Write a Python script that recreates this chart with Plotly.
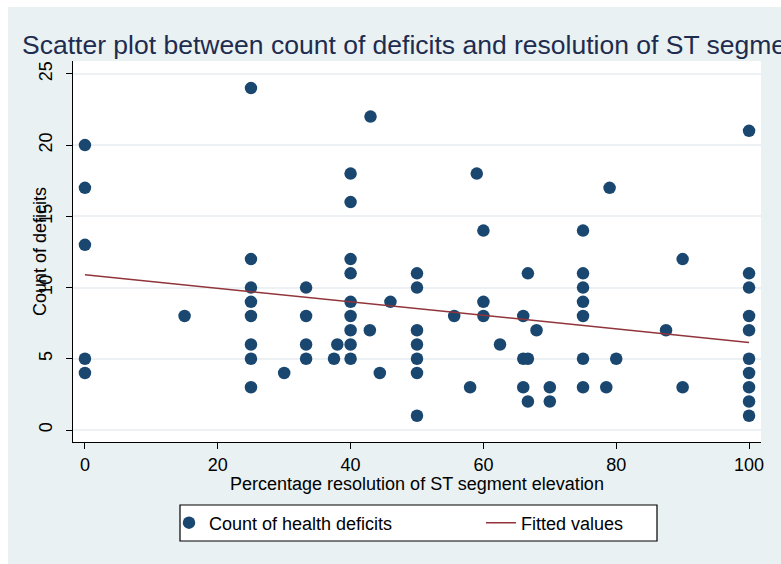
import plotly.graph_objects as go

# Percentage resolution of ST segment elevation (x) and count of health deficits (y)
resolution = [
    0, 0, 0, 0, 0,
    15,
    25, 25, 25, 25, 25, 25, 25, 25,
    30,
    33.3, 33.3, 33.3, 33.3,
    37.5, 38,
    40, 40, 40, 40, 40, 40, 40, 40, 40,
    42.9, 43, 44.4, 46,
    50, 50, 50, 50, 50, 50, 50,
    55.6, 58, 59,
    60, 60, 60,
    62.5,
    66, 66, 66,
    66.7, 66.7, 66.7,
    68,
    70, 70,
    75, 75, 75, 75, 75, 75, 75,
    78.5, 79, 80, 87.5,
    90, 90,
    100, 100, 100, 100, 100, 100, 100, 100, 100, 100,
]
deficits = [
    20, 17, 13, 5, 4,
    8,
    24, 12, 10, 9, 8, 6, 5, 3,
    4,
    10, 8, 6, 5,
    5, 6,
    18, 16, 12, 11, 9, 8, 7, 6, 5,
    7, 22, 4, 9,
    11, 10, 7, 6, 5, 4, 1,
    8, 3, 18,
    14, 9, 8,
    6,
    8, 5, 3,
    11, 5, 2,
    7,
    3, 2,
    14, 11, 10, 9, 8, 5, 3,
    3, 17, 5, 7,
    12, 3,
    21, 11, 10, 8, 7, 5, 4, 3, 2, 1,
]

# Fitted values of the linear regression at the ends of the x range
fit_x = [0, 100]
fit_y = [10.9, 6.15]

x_ticks = [0, 20, 40, 60, 80, 100]
y_ticks = [0, 5, 10, 15, 20, 25]

NAVY = "#1a476f"
MAROON = "#90353b"
BG = "#e9f1f3"
FONT = "Liberation Sans, Arial, sans-serif"

# page / plot-area geometry in pixels
W, H = 781, 564
L, R, T, B = 73, 20, 61, 122
PW, PH = W - L - R, H - T - B


def px_x(p):
    return (p - L) / PW


def px_y(p):
    return (H - B - p) / PH


fig = go.Figure()
fig.add_trace(go.Scatter(
    x=resolution, y=deficits, mode="markers",
    name="Count of health deficits", legend="legend",
    marker=dict(color=NAVY, size=12.5, line=dict(width=0)),
))
fig.add_trace(go.Scatter(
    x=fit_x, y=fit_y, mode="lines",
    name="Fitted values", legend="legend2",
    line=dict(color=MAROON, width=1.5),
))

legend_common = dict(
    orientation="h", yanchor="middle", y=px_y(523),
    bgcolor="rgba(0,0,0,0)", borderwidth=0,
    font=dict(size=18, family=FONT, color="black"),
)

fig.update_layout(
    width=W, height=H,
    margin=dict(l=L, r=R, t=T, b=B),
    paper_bgcolor=BG,
    plot_bgcolor="white",
    font=dict(family=FONT, color="black", size=18),
    title=dict(
        text="Scatter plot between count of deficits and resolution of ST segment elevation",
        x=22 / W, xanchor="left", xref="container",
        y=1 - 45 / H, yanchor="middle", yref="container",
        font=dict(size=26.5, color="#1e2c4f", family=FONT),
    ),
    showlegend=True,
    legend=dict(x=px_x(169), xanchor="left", **legend_common),
    legend2=dict(x=px_x(481), xanchor="left", **legend_common),
    xaxis=dict(
        range=[-1.8, 101.8],
        tickvals=x_ticks,
        showgrid=False, zeroline=False,
        showline=True, linecolor="black", linewidth=1.2,
        ticks="outside", ticklen=6, tickwidth=1.2, tickcolor="black",
        tickfont=dict(size=18),
    ),
    yaxis=dict(
        range=[-0.84, 25.9],
        tickvals=y_ticks,
        tickangle=-90,
        showgrid=True, gridcolor="#edf1f3", gridwidth=1.5,
        zeroline=False,
        showline=True, linecolor="black", linewidth=1.2,
        ticks="outside", ticklen=6, tickwidth=1.2, tickcolor="black",
        tickfont=dict(size=18),
        ticklabelstandoff=7,
    ),
    annotations=[
        dict(
            text="Count of deficits", textangle=-90,
            xref="paper", yref="paper", x=px_x(40), y=px_y(252),
            xanchor="center", yanchor="middle", showarrow=False,
            font=dict(size=18, family=FONT, color="black"),
        ),
        dict(
            text="Percentage resolution of ST segment elevation",
            xref="paper", yref="paper", x=0.5, y=px_y(484),
            xanchor="center", yanchor="middle", showarrow=False,
            font=dict(size=18, family=FONT, color="black"),
        ),
    ],
    shapes=[
        # thin white border at the top and left edges of the page
        dict(type="rect", xref="paper", yref="paper",
             x0=px_x(0), x1=px_x(W), y0=px_y(7), y1=px_y(0),
             fillcolor="white", line=dict(width=0), layer="below"),
        dict(type="rect", xref="paper", yref="paper",
             x0=px_x(0), x1=px_x(8), y0=px_y(H), y1=px_y(0),
             fillcolor="white", line=dict(width=0), layer="below"),
        # legend frame
        dict(type="rect", xref="paper", yref="paper",
             x0=px_x(180), x1=px_x(657), y0=px_y(541), y1=px_y(505),
             fillcolor="white", line=dict(color="black", width=1.2),
             layer="below"),
    ],
)

fig.write_html("out.html")
